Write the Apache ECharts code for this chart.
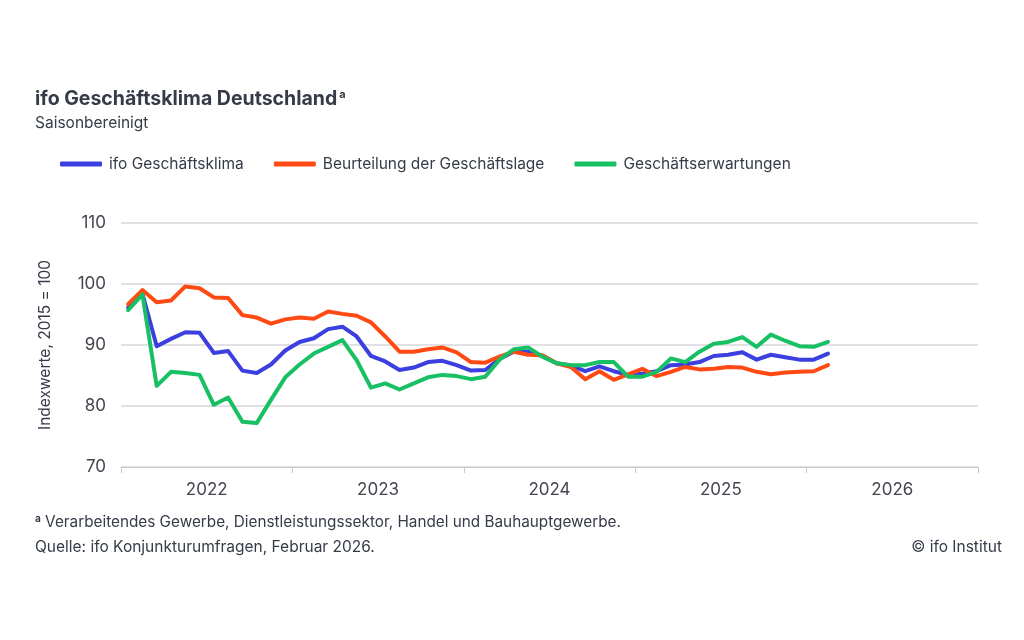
<!DOCTYPE html>
<html>
<head>
<meta charset="utf-8">
<script src="https://cdn.jsdelivr.net/npm/echarts@6/dist/echarts.min.js"></script>
<style>
html,body{margin:0;padding:0;background:#fff;}
#c{width:1024px;height:640px;}
</style>
</head>
<body>
<div id="c"></div>
<script>
var years = ['2022', '2023', '2024', '2025', '2026'];
var klima = [96.1, 98.4, 89.8, 91.0, 92.1, 92.0, 88.7, 89.0, 85.8, 85.4, 86.8, 89.1,
             90.5, 91.1, 92.6, 93.0, 91.4, 88.2, 87.3, 85.9, 86.3, 87.2, 87.4, 86.7,
             85.8, 85.9, 87.7, 88.9, 88.9, 88.2, 87.0, 86.6, 85.7, 86.5, 85.7, 85.1,
             85.3, 85.7, 86.7, 86.8, 87.2, 88.2, 88.4, 88.8, 87.6, 88.4, 88.0, 87.6, 87.6, 88.6];
var lage = [96.7, 99.0, 97.0, 97.3, 99.6, 99.3, 97.8, 97.7, 94.9, 94.5, 93.5, 94.2,
            94.5, 94.3, 95.5, 95.1, 94.8, 93.7, 91.4, 88.9, 88.9, 89.3, 89.6, 88.8,
            87.2, 87.1, 88.1, 88.9, 88.4, 88.3, 87.0, 86.4, 84.4, 85.7, 84.3, 85.2,
            86.1, 84.9, 85.6, 86.4, 86.0, 86.1, 86.4, 86.3, 85.6, 85.2, 85.5, 85.6, 85.7, 86.7];
var erwartungen = [95.7, 98.3, 83.3, 85.6, 85.4, 85.1, 80.2, 81.4, 77.4, 77.2, 81.0, 84.7,
                   86.8, 88.6, 89.7, 90.8, 87.5, 83.0, 83.7, 82.7, 83.7, 84.7, 85.1, 84.9,
                   84.4, 84.8, 87.6, 89.3, 89.6, 88.1, 87.0, 86.7, 86.7, 87.2, 87.2, 84.8,
                   84.8, 85.6, 87.8, 87.2, 88.9, 90.2, 90.5, 91.3, 89.7, 91.7, 90.7, 89.8, 89.7, 90.5];
var yTicks = [70, 80, 90, 100, 110];

var months = [];
years.forEach(function (y) {
  for (var m = 1; m <= 12; m++) months.push(y + '-' + (m < 10 ? '0' + m : m));
});

var C_BLUE = '#3b3fe0', C_ORANGE = '#ff4a14', C_GREEN = '#18c064';
var TXT = '#363b48';
var FONT = 'Inter, "Noto Sans", sans-serif';

var chart = echarts.init(document.getElementById('c'), null, {renderer: 'canvas'});

function line(name, data, color) {
  return {
    name: name, type: 'line', xAxisIndex: 1, data: data,
    symbol: 'none', color: color,
    lineStyle: {width: 4, color: color, cap: 'round', join: 'round'},
    emphasis: {disabled: true}
  };
}

chart.setOption({
  animation: false,
  textStyle: {fontFamily: FONT},
  title: [
    {
      left: 35, top: 89, padding: 0,
      text: '{t|ifo Geschäftsklima Deutschland}{s|a}',
      textStyle: {
        rich: {
          t: {fontSize: 19.5, fontWeight: 'bold', color: TXT, fontFamily: FONT},
          s: {fontSize: 11, fontWeight: 'bold', color: TXT, fontFamily: FONT, verticalAlign: 'top', padding: [0, 0, 9, 2]}
        }
      }
    },
    {
      left: 35, top: 115, padding: 0,
      text: 'Saisonbereinigt',
      textStyle: {fontSize: 15.5, fontWeight: 'normal', color: TXT, fontFamily: FONT}
    },
    {
      left: 35, top: 514, padding: 0,
      text: '{s|a} Verarbeitendes Gewerbe, Dienstleistungssektor, Handel und Bauhauptgewerbe.',
      textStyle: {
        fontSize: 15.3, fontWeight: 'normal', color: TXT, fontFamily: FONT,
        rich: {s: {fontSize: 10, fontWeight: 'bold', color: TXT, fontFamily: FONT, padding: [0, 0, 6, 0]}}
      }
    },
    {
      left: 35, top: 539, padding: 0,
      text: 'Quelle: ifo Konjunkturumfragen, Februar 2026.',
      textStyle: {fontSize: 15.5, fontWeight: 'normal', color: TXT, fontFamily: FONT}
    },
    {
      right: 22, top: 539, padding: 0,
      text: '© ifo Institut',
      textStyle: {fontSize: 15.5, fontWeight: 'normal', color: TXT, fontFamily: FONT}
    }
  ],
  legend: {
    left: 60, top: 156, padding: 0,
    icon: 'roundRect', itemWidth: 42, itemHeight: 5, itemGap: 30,
    textStyle: {fontSize: 15.5, color: TXT, fontFamily: FONT, padding: [0, 0, 0, 2]},
    data: ['ifo Geschäftsklima', 'Beurteilung der Geschäftslage', 'Geschäftserwartungen']
  },
  grid: {left: 121, right: 46, top: 223, bottom: 173, containLabel: false},
  xAxis: [
    {
      type: 'category', data: years, boundaryGap: true, position: 'bottom',
      axisLine: {show: true, lineStyle: {color: '#c9c9d0', width: 1}},
      axisTick: {show: true, length: 6, lineStyle: {color: '#c9c9d0'}},
      axisLabel: {fontSize: 17, color: '#44464f', margin: 14, fontFamily: FONT},
      splitLine: {show: false}
    },
    {
      type: 'category', data: months, boundaryGap: true, show: false
    }
  ],
  yAxis: {
    type: 'value', min: yTicks[0], max: yTicks[yTicks.length - 1], interval: 10,
    name: 'Indexwerte, 2015 = 100', nameLocation: 'middle', nameGap: 68, nameRotate: 90,
    nameTextStyle: {fontSize: 15.5, color: TXT, fontFamily: FONT},
    axisLine: {show: false}, axisTick: {show: false},
    axisLabel: {fontSize: 17, color: '#44464f', margin: 15, fontFamily: FONT},
    splitLine: {show: true, lineStyle: {color: '#d6d6dc', width: 1.5}}
  },
  series: [
    line('ifo Geschäftsklima', klima, C_BLUE),
    line('Beurteilung der Geschäftslage', lage, C_ORANGE),
    line('Geschäftserwartungen', erwartungen, C_GREEN)
  ]
});
</script>
</body>
</html>
